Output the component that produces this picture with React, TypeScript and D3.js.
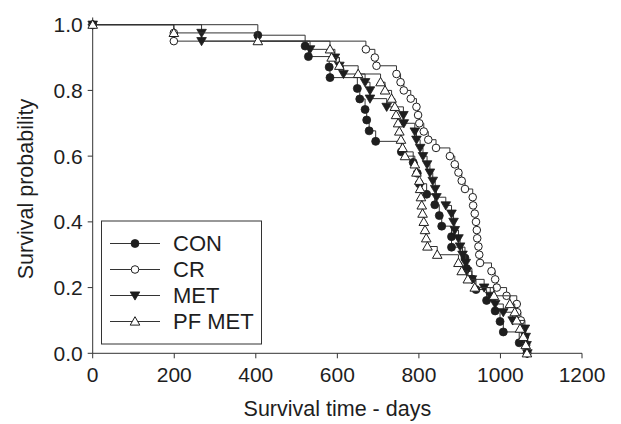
import React from "react";
import * as d3 from "d3";

const xTicks = [0, 200, 400, 600, 800, 1000, 1200];
const yTicks = [0.0, 0.2, 0.4, 0.6, 0.8, 1.0];

const seriesNames = ["CON", "CR", "MET", "PF MET"];

const conTimes = [405, 521, 529, 580, 582, 649, 655, 668, 672, 678, 694, 757, 786, 796, 801, 819, 839, 850, 856, 880, 880, 913, 917, 930, 940, 966, 987, 999, 1007, 1046, 1065];
const conSurv = [0.968, 0.935, 0.903, 0.871, 0.839, 0.806, 0.774, 0.742, 0.710, 0.677, 0.645, 0.613, 0.581, 0.548, 0.516, 0.484, 0.452, 0.419, 0.387, 0.355, 0.323, 0.290, 0.258, 0.226, 0.194, 0.161, 0.129, 0.097, 0.065, 0.032, 0];

const crTimes = [199, 199, 670, 692, 696, 745, 755, 763, 780, 794, 798, 801, 812, 823, 842, 876, 888, 897, 905, 913, 932, 933, 937, 940, 942, 943, 946, 948, 950, 978, 987, 991, 1015, 1040, 1041, 1050, 1055, 1060, 1063, 1066];
const crSurv = [0.975, 0.95, 0.925, 0.9, 0.875, 0.85, 0.825, 0.8, 0.775, 0.75, 0.725, 0.7, 0.675, 0.65, 0.625, 0.6, 0.575, 0.55, 0.525, 0.5, 0.475, 0.45, 0.425, 0.4, 0.375, 0.35, 0.325, 0.3, 0.275, 0.25, 0.225, 0.2, 0.175, 0.15, 0.125, 0.1, 0.075, 0.05, 0.025, 0];

const metTimes = [267, 267, 533, 594, 605, 615, 668, 680, 680, 721, 762, 763, 790, 794, 803, 810, 820, 827, 834, 840, 843, 866, 880, 885, 888, 897, 901, 907, 915, 917, 930, 960, 975, 987, 1007, 1030, 1060, 1062, 1064, 1066];
const metSurv = [0.975, 0.95, 0.925, 0.9, 0.875, 0.85, 0.825, 0.8, 0.775, 0.75, 0.725, 0.7, 0.675, 0.65, 0.625, 0.6, 0.575, 0.55, 0.525, 0.5, 0.475, 0.45, 0.425, 0.4, 0.375, 0.35, 0.325, 0.3, 0.275, 0.25, 0.225, 0.2, 0.175, 0.15, 0.125, 0.1, 0.075, 0.05, 0.025, 0];

const pfTimes = [199, 405, 582, 586, 605, 651, 706, 717, 733, 741, 744, 749, 752, 756, 760, 766, 790, 794, 801, 803, 805, 807, 809, 812, 815, 818, 821, 845, 897, 905, 920, 937, 984, 1023, 1035, 1040, 1048, 1056, 1062, 1065];
const pfSurv = [0.975, 0.95, 0.925, 0.9, 0.875, 0.85, 0.825, 0.8, 0.775, 0.75, 0.725, 0.7, 0.675, 0.65, 0.625, 0.6, 0.575, 0.55, 0.525, 0.5, 0.475, 0.45, 0.425, 0.4, 0.375, 0.35, 0.325, 0.3, 0.275, 0.25, 0.225, 0.2, 0.175, 0.15, 0.125, 0.1, 0.075, 0.05, 0.025, 0];

const W = 621;
const H = 424;
const FONT = "'Liberation Sans', Arial, Helvetica, sans-serif";
const INK = "#1e1e1e";
const LINE = "#333";

type Marker = "dot" | "circle" | "down" | "up";

function MarkerShape({ kind, x, y }: { kind: Marker; x: number; y: number }) {
  if (kind === "dot") return <circle cx={x} cy={y} r={4} fill={INK} stroke={INK} strokeWidth={0.8} />;
  if (kind === "circle") return <circle cx={x} cy={y} r={3.8} fill="#fff" stroke={INK} strokeWidth={1} />;
  if (kind === "down")
    return <path d={`M${x - 4.8},${y - 3.6}L${x + 4.8},${y - 3.6}L${x},${y + 4.6}Z`} fill={INK} stroke={INK} strokeWidth={0.8} />;
  return <path d={`M${x},${y - 4.8}L${x + 4.8},${y + 3.6}L${x - 4.8},${y + 3.6}Z`} fill="#fff" stroke={INK} strokeWidth={1} />;
}

export default function App() {
  const x = d3.scaleLinear().domain([0, 1200]).range([92.7, 582]);
  const y = d3.scaleLinear().domain([0, 1]).range([353.3, 24.7]);

  const series: { name: string; times: number[]; surv: number[]; marker: Marker }[] = [
    { name: seriesNames[0], times: conTimes, surv: conSurv, marker: "dot" },
    { name: seriesNames[1], times: crTimes, surv: crSurv, marker: "circle" },
    { name: seriesNames[2], times: metTimes, surv: metSurv, marker: "down" },
    { name: seriesNames[3], times: pfTimes, surv: pfSurv, marker: "up" },
  ];

  const line = d3
    .line<[number, number]>()
    .x((d) => x(d[0]))
    .y((d) => y(d[1]))
    .curve(d3.curveStepAfter);

  const yTop = y(1.022);

  return (
    <svg width={W} height={H} style={{ position: "absolute", left: 0, top: 0, background: "#fff" }} fontFamily={FONT}>
      <rect x={0} y={0} width={W} height={H} fill="#fff" />
      {/* axes */}
      <line x1={x(0)} x2={x(0)} y1={yTop} y2={y(0)} stroke={LINE} strokeWidth={1} />
      <line x1={x(0)} x2={x(1200)} y1={y(0)} y2={y(0)} stroke={LINE} strokeWidth={1} />
      {xTicks.map((t) => (
        <g key={"xt" + t}>
          <line x1={x(t)} x2={x(t)} y1={y(0)} y2={y(0) + 5} stroke={LINE} strokeWidth={1} />
          <text x={x(t)} y={y(0) + 29} textAnchor="middle" fontSize={21} fill={INK}>
            {String(t)}
          </text>
        </g>
      ))}
      {yTicks.map((t) => (
        <g key={"yt" + t}>
          <line x1={x(0) - 5} x2={x(0)} y1={y(t)} y2={y(t)} stroke={LINE} strokeWidth={1} />
          <text x={x(0) - 10} y={y(t) + 7.5} textAnchor="end" fontSize={21} fill={INK}>
            {t.toFixed(1)}
          </text>
        </g>
      ))}
      <text x={(x(0) + x(1200)) / 2} y={416} textAnchor="middle" fontSize={21.5} fill={INK}>
        Survival time - days
      </text>
      <text
        transform={`translate(${33},${(y(0) + y(1)) / 2}) rotate(-90)`}
        textAnchor="middle"
        fontSize={21.5}
        fill={INK}
      >
        Survival probability
      </text>

      {/* series */}
      {series.map((s) => {
        const pts: [number, number][] = [[0, 1], ...s.times.map((t, i) => [t, s.surv[i]] as [number, number])];
        return (
          <g key={s.name}>
            <path d={line(pts) || ""} fill="none" stroke={LINE} strokeWidth={1} />
            {pts.map((p, i) => (
              <MarkerShape key={i} kind={s.marker} x={x(p[0])} y={y(p[1])} />
            ))}
          </g>
        );
      })}

      {/* legend */}
      <rect x={101.5} y={221} width={160} height={123} fill="#fff" stroke={LINE} strokeWidth={1} />
      {series.map((s, i) => {
        const ly = 243.5 + i * 26;
        return (
          <g key={"lg" + s.name}>
            <line x1={110} x2={160} y1={ly} y2={ly} stroke={LINE} strokeWidth={1} />
            <MarkerShape kind={s.marker} x={135} y={ly} />
            <text x={173} y={ly + 7.8} fontSize={22} fill={INK}>
              {s.name}
            </text>
          </g>
        );
      })}
    </svg>
  );
}
